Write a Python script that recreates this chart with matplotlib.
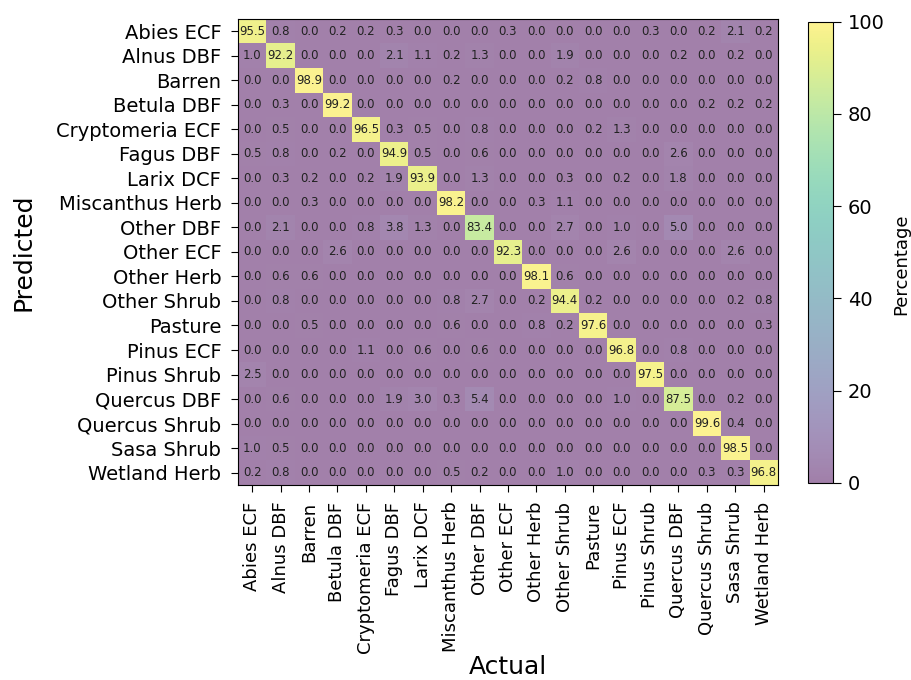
import numpy as np
import matplotlib.pyplot as plt

classes = ['Abies ECF', 'Alnus DBF', 'Barren', 'Betula DBF', 'Cryptomeria ECF',
           'Fagus DBF', 'Larix DCF', 'Miscanthus Herb', 'Other DBF', 'Other ECF',
           'Other Herb', 'Other Shrub', 'Pasture', 'Pinus ECF', 'Pinus Shrub',
           'Quercus DBF', 'Quercus Shrub', 'Sasa Shrub', 'Wetland Herb']

# rows = predicted, columns = actual (percent)
abies_ecf       = [95.5, 0.8, 0.0, 0.2, 0.2, 0.3, 0.0, 0.0, 0.0, 0.3, 0.0, 0.0, 0.0, 0.0, 0.3, 0.0, 0.2, 2.1, 0.2]
alnus_dbf       = [1.0, 92.2, 0.0, 0.0, 0.0, 2.1, 1.1, 0.2, 1.3, 0.0, 0.0, 1.9, 0.0, 0.0, 0.0, 0.2, 0.0, 0.2, 0.0]
barren          = [0.0, 0.0, 98.9, 0.0, 0.0, 0.0, 0.0, 0.2, 0.0, 0.0, 0.0, 0.2, 0.8, 0.0, 0.0, 0.0, 0.0, 0.0, 0.0]
betula_dbf      = [0.0, 0.3, 0.0, 99.2, 0.0, 0.0, 0.0, 0.0, 0.0, 0.0, 0.0, 0.0, 0.0, 0.0, 0.0, 0.0, 0.2, 0.2, 0.2]
cryptomeria_ecf = [0.0, 0.5, 0.0, 0.0, 96.5, 0.3, 0.5, 0.0, 0.8, 0.0, 0.0, 0.0, 0.2, 1.3, 0.0, 0.0, 0.0, 0.0, 0.0]
fagus_dbf       = [0.5, 0.8, 0.0, 0.2, 0.0, 94.9, 0.5, 0.0, 0.6, 0.0, 0.0, 0.0, 0.0, 0.0, 0.0, 2.6, 0.0, 0.0, 0.0]
larix_dcf       = [0.0, 0.3, 0.2, 0.0, 0.2, 1.9, 93.9, 0.0, 1.3, 0.0, 0.0, 0.3, 0.0, 0.2, 0.0, 1.8, 0.0, 0.0, 0.0]
miscanthus_herb = [0.0, 0.0, 0.3, 0.0, 0.0, 0.0, 0.0, 98.2, 0.0, 0.0, 0.3, 1.1, 0.0, 0.0, 0.0, 0.0, 0.0, 0.0, 0.0]
other_dbf       = [0.0, 2.1, 0.0, 0.0, 0.8, 3.8, 1.3, 0.0, 83.4, 0.0, 0.0, 2.7, 0.0, 1.0, 0.0, 5.0, 0.0, 0.0, 0.0]
other_ecf       = [0.0, 0.0, 0.0, 2.6, 0.0, 0.0, 0.0, 0.0, 0.0, 92.3, 0.0, 0.0, 0.0, 2.6, 0.0, 0.0, 0.0, 2.6, 0.0]
other_herb      = [0.0, 0.6, 0.6, 0.0, 0.0, 0.0, 0.0, 0.0, 0.0, 0.0, 98.1, 0.6, 0.0, 0.0, 0.0, 0.0, 0.0, 0.0, 0.0]
other_shrub     = [0.0, 0.8, 0.0, 0.0, 0.0, 0.0, 0.0, 0.8, 2.7, 0.0, 0.2, 94.4, 0.2, 0.0, 0.0, 0.0, 0.0, 0.2, 0.8]
pasture         = [0.0, 0.0, 0.5, 0.0, 0.0, 0.0, 0.0, 0.6, 0.0, 0.0, 0.8, 0.2, 97.6, 0.0, 0.0, 0.0, 0.0, 0.0, 0.3]
pinus_ecf       = [0.0, 0.0, 0.0, 0.0, 1.1, 0.0, 0.6, 0.0, 0.6, 0.0, 0.0, 0.0, 0.0, 96.8, 0.0, 0.8, 0.0, 0.0, 0.0]
pinus_shrub     = [2.5, 0.0, 0.0, 0.0, 0.0, 0.0, 0.0, 0.0, 0.0, 0.0, 0.0, 0.0, 0.0, 0.0, 97.5, 0.0, 0.0, 0.0, 0.0]
quercus_dbf     = [0.0, 0.6, 0.0, 0.0, 0.0, 1.9, 3.0, 0.3, 5.4, 0.0, 0.0, 0.0, 0.0, 1.0, 0.0, 87.5, 0.0, 0.2, 0.0]
quercus_shrub   = [0.0, 0.0, 0.0, 0.0, 0.0, 0.0, 0.0, 0.0, 0.0, 0.0, 0.0, 0.0, 0.0, 0.0, 0.0, 0.0, 99.6, 0.4, 0.0]
sasa_shrub      = [1.0, 0.5, 0.0, 0.0, 0.0, 0.0, 0.0, 0.0, 0.0, 0.0, 0.0, 0.0, 0.0, 0.0, 0.0, 0.0, 0.0, 98.5, 0.0]
wetland_herb    = [0.2, 0.8, 0.0, 0.0, 0.0, 0.0, 0.0, 0.5, 0.2, 0.0, 0.0, 1.0, 0.0, 0.0, 0.0, 0.0, 0.3, 0.3, 96.8]

cm = np.array([abies_ecf, alnus_dbf, barren, betula_dbf, cryptomeria_ecf,
               fagus_dbf, larix_dcf, miscanthus_herb, other_dbf, other_ecf,
               other_herb, other_shrub, pasture, pinus_ecf, pinus_shrub,
               quercus_dbf, quercus_shrub, sasa_shrub, wetland_herb])

fig = plt.figure(figsize=(9.12, 6.8), dpi=100)
ax = fig.add_axes([0.261, 0.287, 0.592, 0.685])
cax = fig.add_axes([0.886, 0.290, 0.027, 0.678])

im = ax.imshow(cm, cmap='viridis', vmin=0, vmax=100, alpha=0.5, aspect='auto')

n = len(classes)
for i in range(n):
    for j in range(n):
        ax.text(j, i, '{:.1f}'.format(cm[i, j]), ha='center', va='center',
                fontsize=8.5, color='#222222')

ax.set_xticks(range(n))
ax.set_yticks(range(n))
ax.set_xticklabels(classes, rotation=90, fontsize=13)
ax.set_yticklabels(classes, fontsize=14)
ax.tick_params(axis='both', length=5, pad=7)
ax.set_xlabel('Actual', fontsize=18)
ax.set_ylabel('Predicted', fontsize=18)
ax.xaxis.set_label_coords(0.5, -0.365)
ax.yaxis.set_label_coords(-0.376, 0.5)

cb = fig.colorbar(im, cax=cax)
cb.ax.tick_params(labelsize=14, length=6, pad=5)
cb.set_label('Percentage', fontsize=13)
cb.ax.yaxis.set_label_coords(3.4, 0.475)

plt.savefig('out.png')
